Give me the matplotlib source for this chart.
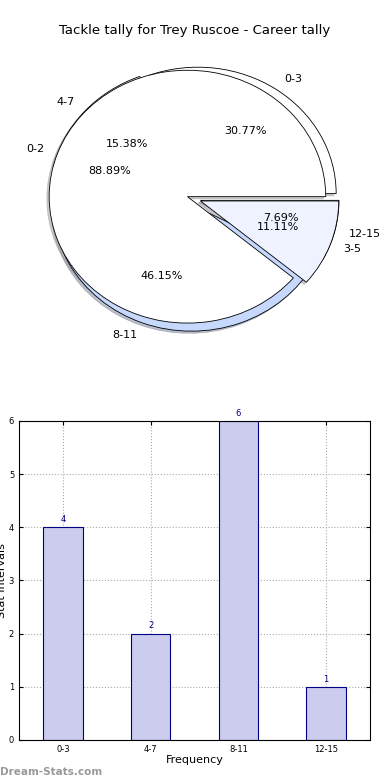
import matplotlib
matplotlib.use("Agg")
import matplotlib.pyplot as plt

title = "Tackle tally for Trey Ruscoe - Career tally"

# career tally, 4-point bins
bins_a = ["0-3", "4-7", "8-11", "12-15"]
counts_a = [4, 2, 6, 1]

# second tally, 3-point bins
bins_b = ["0-2", "3-5"]
counts_b = [8, 1]

colors_a = ["white", "#eef3ff", "#c6d9fd", "#eef3ff"]
colors_b = ["white", "#eef3ff"]

fig = plt.figure(figsize=(3.9, 7.8), dpi=100)

# PIE
ax1 = fig.add_axes([0.0718, 0.5506, 0.851, 0.389])

shadow_opts = {"ox": -0.012, "oy": -0.012, "shade": 0.4}

ax1.pie(
    counts_a,
    labels=bins_a,
    colors=colors_a,
    autopct="%1.2f%%",
    explode=[0.05] * len(counts_a),
    shadow=shadow_opts,
    wedgeprops={"edgecolor": "black", "linewidth": 0.6},
    textprops={"fontsize": 8}
)

ax1.pie(
    counts_b,
    labels=bins_b,
    colors=colors_b,
    autopct="%1.2f%%",
    explode=[0.05] * len(counts_b),
    shadow=shadow_opts,
    wedgeprops={"edgecolor": "black", "linewidth": 0.6},
    textprops={"fontsize": 8}
)

ax1.set_aspect("auto")
ax1.set_xlim(-1.2, 1.2)
ax1.set_ylim(-1.2, 1.2)

fig.text(0.5, 0.961, title, ha="center", va="center", fontsize=9.5)

# BARS
ax2 = fig.add_axes([0.0487, 0.0513, 0.9, 0.409])

x = list(range(len(bins_a)))

ax2.bar(
    x,
    counts_a,
    width=0.45,
    color="#ccccee",
    edgecolor="navy",
    linewidth=0.8,
    zorder=2
)

for xi, v in zip(x, counts_a):
    ax2.text(xi, v + 0.06, str(v), ha="center", va="bottom",
             fontsize=6, color="navy")

ax2.set_xlim(-0.5, 3.5)
ax2.set_ylim(0, 6)
ax2.set_xticks(x)
ax2.set_xticklabels(bins_a)
ax2.tick_params(direction="in", top=True, right=True, labelsize=6, length=3)
ax2.grid(True, linestyle=":", color="#aaaaaa", linewidth=0.8, zorder=0)
ax2.set_axisbelow(True)

ax2.set_xlabel("Frequency", fontsize=8, labelpad=1)
ax2.set_ylabel("Stat Intervals", fontsize=8, labelpad=1)

fig.text(0.0, 0.004, "Dream-Stats.com", fontsize=7.5, color="#999999",
         fontweight="bold", ha="left", va="bottom")

fig.savefig("out.png", dpi=100)
